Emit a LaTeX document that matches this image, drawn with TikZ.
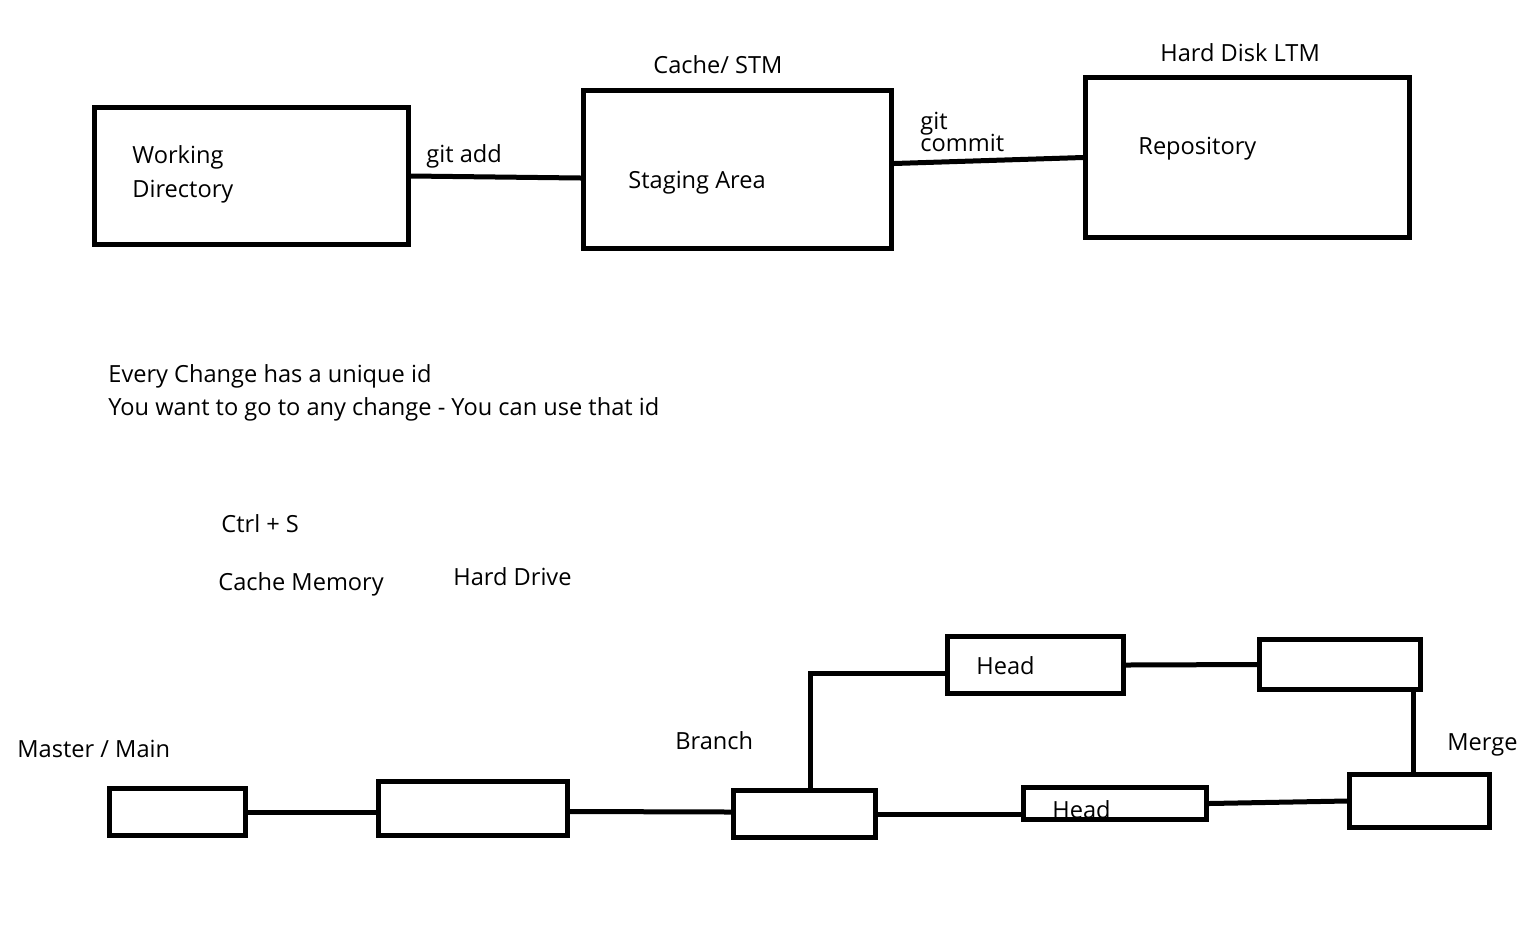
\documentclass[tikz,border=0pt]{standalone}
\usepackage{fontspec}
\setmainfont{Open Sans}
\begin{document}
\begin{tikzpicture}[x=0.5pt,y=-0.5pt,
    box/.style={draw,rectangle,line width=2.5pt,inner sep=0pt},
    lbl/.style={anchor=base west,inner sep=0pt,font=\fontsize{11.8}{13}\selectfont},
    link/.style={line width=2.5pt}]
  \useasboundingbox (0,0) rectangle (1534,933);
  % top row: the three areas
  \node[box,minimum width=157pt,minimum height=68.5pt] (wd) at (251.5,176) {};
  \node[box,minimum width=154pt,minimum height=79pt] (sa) at (737.5,169.5) {};
  \node[box,minimum width=162pt,minimum height=80pt] (repo) at (1247.5,157.5) {};
  \node[lbl] (wd1) at (132,163) {Working};
  \node[lbl] (wd2) at (132,197) {Directory};
  \node[lbl] (satxt) at (628,188) {Staging Area};
  \node[lbl] (repotxt) at (1138,154) {Repository};
  \node[lbl] (stm) at (653,73) {Cache/ STM};
  \node[lbl] (ltm) at (1160,61) {Hard Disk LTM};
  \node[lbl] (add) at (426,162) {git add};
  \node[lbl] (cm1) at (920,129) {git};
  \node[lbl] (cm2) at (920,151) {commit};
  \draw[link] (wd.east) -- ([yshift=-1pt]wd.east -| sa.west);
  \draw[link] ([yshift=3pt]sa.east) -- (repo.west);
  % notes
  \node[lbl] (n1) at (108,382) {Every Change has a unique id};
  \node[lbl] (n2) at (108,415) {You want to go to any change - You can use that id};
  \node[lbl] (n3) at (221,532) {Ctrl + S};
  \node[lbl] (n4) at (218,590) {Cache Memory};
  \node[lbl] (n5) at (453,585) {Hard Drive};
  % bottom: branches
  \node[box,minimum width=68pt,minimum height=23.5pt] (c1) at (177.5,812) {};
  \node[box,minimum width=94.5pt,minimum height=27pt] (c2) at (473,808.5) {};
  \node[box,minimum width=71pt,minimum height=23.5pt] (c3) at (804.5,814) {};
  \node[box,minimum width=88pt,minimum height=28.5pt] (h1) at (1035.5,665) {};
  \node[box,minimum width=80.5pt,minimum height=25pt] (c4) at (1340,664.5) {};
  \node[box,minimum width=91.5pt,minimum height=16pt] (h2) at (1115,803.5) {};
  \node[box,minimum width=70pt,minimum height=26.5pt] (mg) at (1419.5,801) {};
  \node[lbl] (master) at (17,757) {Master / Main};
  \node[lbl] (branch) at (675,749) {Branch};
  \node[lbl] (merge) at (1447,750) {Merge};
  \node[lbl] (h1txt) at (976,674) {Head};
  \node[lbl] (h2txt) at (1052,818) {Head};
  \draw[link] (c1.east) -- (c1.east -| c2.west);
  \draw[link] ([yshift=-1.5pt]c2.east) -- ([yshift=1pt]c3.west);
  \draw[link] ([xshift=3pt]c3.north) |- ([yshift=-4pt]h1.west);
  \draw[link] (h1.east) -- (c4.west);
  \draw[link] ([xshift=-3pt]mg.north |- c4.south) -- ([xshift=-3pt]mg.north);
  \draw[link] (c3.east) -- (c3.east -| h2.west);
  \draw[link] (h2.east) -- (mg.west);
\end{tikzpicture}
\end{document}
